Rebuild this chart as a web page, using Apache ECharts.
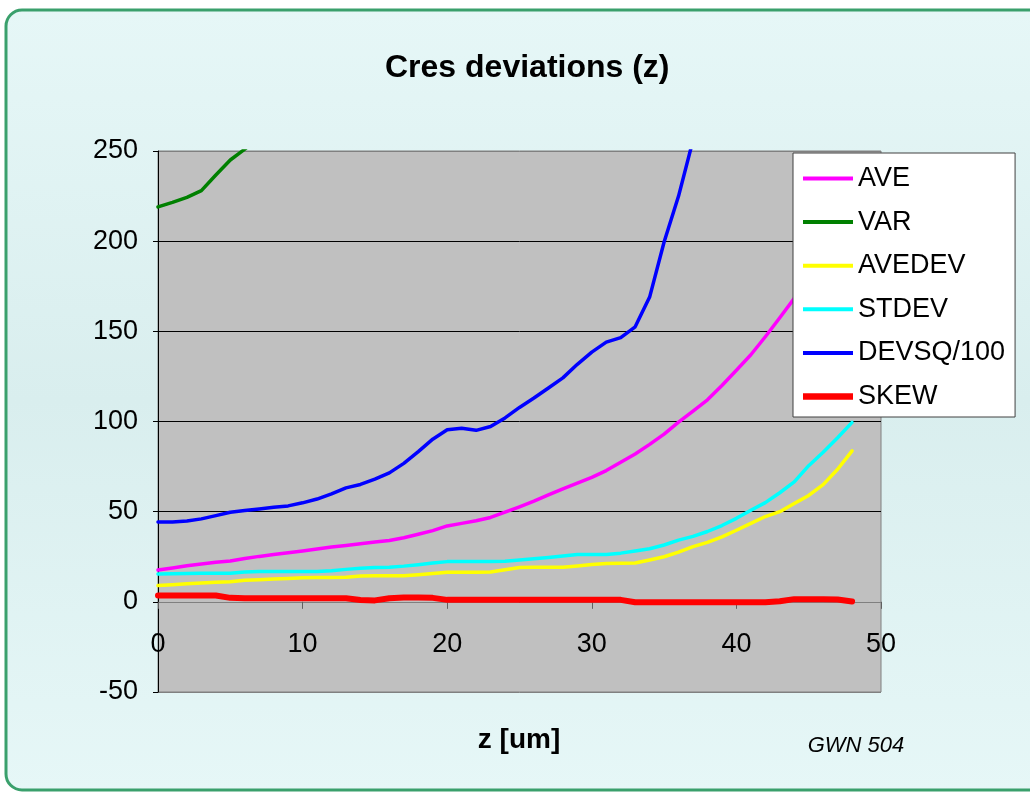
<!DOCTYPE html>
<html>
<head>
<meta charset="utf-8">
<script src="https://cdn.jsdelivr.net/npm/echarts@6/dist/echarts.min.js"></script>
<style>
  html, body { margin: 0; padding: 0; background: #fff; }
  #chart { width: 1030px; height: 796px; }
</style>
</head>
<body>
<div id="chart"></div>
<script>
// z positions [um]
var zValues = [0, 1, 2, 3, 4, 5, 6, 7, 8, 9, 10, 11, 12, 13, 14, 15, 16, 17, 18, 19, 20,
    21, 22, 23, 24, 25, 26, 27, 28, 29, 30, 31, 32, 33, 34, 35, 36, 37, 38, 39, 40,
    41, 42, 43, 44, 45, 46, 47, 48];

var ave = [17.7, 18.8, 20, 21, 22, 22.6, 24, 25.2, 26.2, 27.2, 28.2, 29.3, 30.4, 31.3, 32.2, 33.2, 34, 35.5, 37.5, 39.5, 42.1,
    43.5, 45, 46.8, 49.7, 52.7, 55.8, 59.3, 62.7, 65.8, 69, 72.8, 77.4, 82, 87.3, 93, 99.6, 105.8, 112, 120, 128.4,
    137, 147, 157.5, 168.3, 180, 192, 205, 218];

var vari = [219, 221.5, 224.3, 228, 236.7, 245, 251, 258];

var avedev = [9, 9.5, 10, 10.4, 10.8, 11.2, 12, 12.3, 12.6, 13, 13.4, 13.5, 13.5, 13.6, 14.3, 14.4, 14.4, 14.4, 15, 15.7, 16.4,
    16.4, 16.4, 16.6, 17.8, 19, 19.2, 19.2, 19.2, 19.9, 20.7, 21.2, 21.4, 21.5, 23.2, 25, 27.6, 30.6, 33, 36, 39.7,
    43.5, 47.3, 50, 54.5, 59, 65, 73.5, 83.7];

var stdev = [15.5, 15.6, 15.7, 15.8, 15.9, 15.9, 16.5, 16.8, 16.8, 16.8, 16.8, 16.8, 17.2, 18, 18.6, 19, 19.2, 19.8, 20.6, 21.5, 22.3,
    22.3, 22.3, 22.3, 22.5, 23.2, 23.9, 24.6, 25.4, 26.2, 26.3, 26.2, 27, 28.2, 29.4, 31.5, 34.2, 36.3, 39, 42.3, 46.3,
    50.8, 55, 60.5, 66.5, 75.5, 83, 91, 99.5];

var devsq = [44.3, 44.3, 44.8, 46, 47.8, 49.7, 50.6, 51.5, 52.4, 53.2, 54.9, 57, 59.9, 63.2, 65.1, 68, 71.5, 76.8, 83.3, 90.2, 95.4,
    96.3, 95.1, 97.2, 102, 107.8, 113, 118.6, 124.2, 131.7, 138.5, 144, 146.5, 152.5, 169, 199.5, 225, 256, 290];

var skew = [3.5, 3.5, 3.5, 3.5, 3.5, 2.2, 2, 2, 2, 2, 2, 2, 2, 2, 1, 0.8, 2, 2.4, 2.4, 2.2, 1.1,
    1.1, 1.1, 1.1, 1.1, 1.1, 1.1, 1.1, 1.1, 1.1, 1.1, 1.1, 1.1, -0.2, -0.2, -0.2, -0.2, -0.2, -0.2, -0.2, -0.2,
    -0.2, -0.2, 0.3, 1.5, 1.5, 1.5, 1.3, 0.2];

var seriesNames = ['AVE', 'VAR', 'AVEDEV', 'STDEV', 'DEVSQ/100', 'SKEW'];
var seriesColors = ['#ff00ff', '#008000', '#ffff00', '#00ffff', '#0000ff', '#ff0000'];
var seriesWidths = [3.5, 3.5, 3.5, 3.5, 3.5, 6];
var seriesValues = [ave, vari, avedev, stdev, devsq, skew];

function pairs(vals) {
    var out = [];
    for (var i = 0; i < vals.length; i++) {
        out.push([zValues[i], vals[i]]);
    }
    return out;
}

var series = [];
var legendData = [];
for (var i = 0; i < seriesNames.length; i++) {
    series.push({
        name: seriesNames[i],
        type: 'line',
        data: pairs(seriesValues[i]),
        symbol: 'none',
        clip: true,
        color: seriesColors[i],
        lineStyle: {color: seriesColors[i], width: seriesWidths[i], cap: 'round', join: 'round'}
    });
    // legend sample: a flat bar the thickness of the line
    var h = seriesWidths[i] + 0.5;
    legendData.push({
        name: seriesNames[i],
        icon: 'path://M0,0L50,0L50,' + h + 'L0,' + h + 'Z'
    });
}

var font = 'Liberation Sans, Arial, sans-serif';

var option = {
    animation: false,
    textStyle: {fontFamily: font},
    title: {
        text: 'Cres deviations (z)',
        left: 380,
        top: 47,
        textStyle: {fontSize: 32, fontWeight: 'bold', color: '#000', fontFamily: font}
    },
    graphic: [{
        type: 'rect',
        z: -10,
        shape: {x: 6, y: 10, width: 1060, height: 780, r: 16},
        style: {
            fill: new echarts.graphic.LinearGradient(0, 0, 0, 1, [
                {offset: 0, color: '#e6f7f7'},
                {offset: 0.5, color: '#d9eeee'},
                {offset: 1, color: '#e6f7f7'}
            ]),
            stroke: '#3aa06c',
            lineWidth: 3
        }
    }, {
        type: 'text',
        z: 100,
        x: 519,
        y: 740,
        style: {
            text: 'z [um]',
            font: 'bold 28px ' + font,
            fill: '#000',
            align: 'center',
            verticalAlign: 'middle'
        }
    }, {
        type: 'text',
        z: 100,
        x: 856,
        y: 746,
        style: {
            text: 'GWN 504',
            font: 'italic 22px ' + font,
            fill: '#000',
            align: 'center',
            verticalAlign: 'middle'
        }
    }],
    legend: {
        orient: 'vertical',
        left: 793,
        top: 153,
        data: legendData,
        backgroundColor: '#fff',
        borderColor: '#404040',
        borderWidth: 1,
        padding: [12, 10, 7, 10],
        itemWidth: 50,
        itemHeight: 27,
        itemGap: 16.6,
        textStyle: {fontSize: 27, lineHeight: 27, color: '#000', fontFamily: font}
    },
    grid: {
        left: 158,
        top: 151,
        right: 149,
        bottom: 104,
        containLabel: false,
        outerBoundsMode: 'none',
        show: true,
        backgroundColor: '#c0c0c0',
        borderColor: '#808080',
        borderWidth: 1
    },
    xAxis: {
        type: 'value',
        min: 0,
        max: 50,
        interval: 10,
        axisLine: {onZero: true, lineStyle: {color: '#808080', width: 1}},
        axisTick: {show: true, length: 7, lineStyle: {color: '#606060'}},
        // labels sit just under the zero line, inside the plot
        axisLabel: {fontSize: 27, color: '#000', margin: -61},
        splitLine: {show: false}
    },
    yAxis: {
        type: 'value',
        min: -50,
        max: 250,
        interval: 50,
        axisLine: {show: true, lineStyle: {color: '#000', width: 1}},
        axisTick: {show: true, length: 5, lineStyle: {color: '#000'}},
        axisLabel: {fontSize: 27, color: '#000', margin: 20},
        splitLine: {
            show: true,
            lineStyle: {color: ['#808080', '#000', '#000', '#000', '#000', '#000', '#808080'], width: 1}
        }
    },
    series: series
};

var chart = echarts.init(document.getElementById('chart'));
chart.setOption(option);
</script>
</body>
</html>
